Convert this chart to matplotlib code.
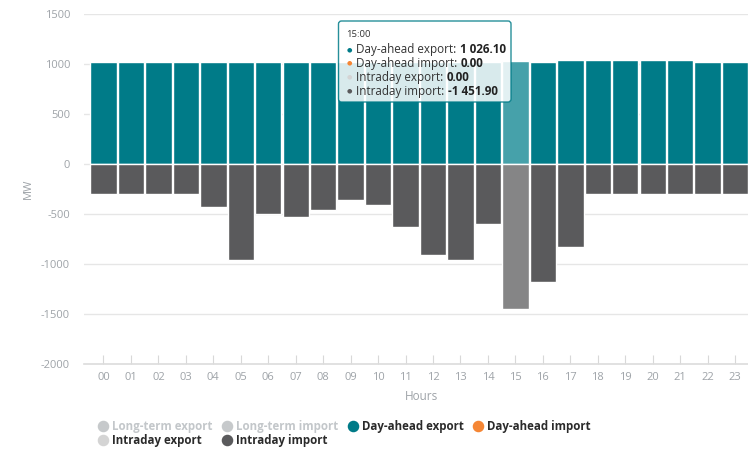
import matplotlib.pyplot as plt
from matplotlib.lines import Line2D
from matplotlib.patches import FancyBboxPatch

plt.rcParams["font.family"] = ["Open Sans", "DejaVu Sans"]
plt.rcParams["axes.unicode_minus"] = False

hours = ["00", "01", "02", "03", "04", "05", "06", "07", "08", "09", "10", "11",
         "12", "13", "14", "15", "16", "17", "18", "19", "20", "21", "22", "23"]
day_ahead_export = [1020, 1020, 1020, 1020, 1020, 1020, 1020, 1020, 1020, 1020, 1020, 1020,
                    1020, 1020, 1020, 1026.10, 1020, 1040, 1040, 1040, 1040, 1040, 1020, 1020]
day_ahead_import = [0.0] * 24
intraday_export = [0.0] * 24
intraday_import = [-300, -300, -300, -300, -433, -960, -497, -530, -457, -363, -407, -630,
                   -910, -957, -600, -1451.90, -1180, -827, -300, -300, -300, -300, -300, -300]
hover_hour = 15

c_dae = "#007b88"
c_dai = "#f58634"
c_ide = "#d4d4d4"
c_idi = "#5a5a5c"
c_hidden = "#c6c9cb"
c_tick = "#9ea3a8"

fig = plt.figure(figsize=(7.48, 4.49), dpi=100)
ax = fig.add_axes([84 / 748, 1 - 364 / 449, 664 / 748, 350 / 449])

x = list(range(len(hours)))
dae_cols = ["#46a1aa" if i == hover_hour else c_dae for i in x]
idi_cols = ["#858586" if i == hover_hour else c_idi for i in x]
ax.bar(x, day_ahead_export, width=0.96, color=dae_cols, edgecolor="white", linewidth=1, zorder=3)
ax.bar(x, day_ahead_import, width=0.96, color=c_dai, edgecolor="white", linewidth=0, zorder=3)
ax.bar(x, intraday_export, width=0.96, color=c_ide, edgecolor="white", linewidth=0, zorder=3)
ax.bar(x, intraday_import, width=0.96, color=idi_cols, edgecolor="white", linewidth=1, zorder=3)

ax.set_xlim(-0.71, 23.47)
ax.set_ylim(-2000, 1500)
ax.set_yticks(range(-2000, 1501, 500))
ax.set_xticks(x)
ax.set_xticklabels(hours)
ax.grid(axis="y", color="#e6e6e6", linewidth=1, zorder=0)
for s in ["top", "right", "left"]:
    ax.spines[s].set_visible(False)
ax.spines["bottom"].set_color("#dcdcdc")
ax.spines["bottom"].set_linewidth(1.2)
ax.tick_params(axis="y", length=0, pad=10, labelsize=8, labelcolor=c_tick)
ax.tick_params(axis="x", direction="in", length=6.5, width=0.8, color="#d8d8d8",
               pad=6, labelsize=8, labelcolor=c_tick)
ax.set_xlabel("Hours", fontsize=8.5, color=c_tick)
ax.xaxis.set_label_coords(0.508, -0.075)
ax.set_ylabel("MW", fontsize=8, color=c_tick)
ax.yaxis.set_label_coords(-0.075, 0.5)

# tooltip
box = FancyBboxPatch((3.385, 3.47), 1.725, 0.81, boxstyle="round,pad=0,rounding_size=0.03",
                     transform=fig.dpi_scale_trans, facecolor="white", alpha=0.85,
                     edgecolor=c_dae, linewidth=1, zorder=10)
fig.add_artist(box)
fig.text(3.46, 4.49 - 0.35, f"{hover_hour}:00", transform=fig.dpi_scale_trans,
         fontsize=6.8, color="#333333", va="center", zorder=11)
rows = [("Day-ahead export", day_ahead_export[hover_hour], c_dae),
        ("Day-ahead import", day_ahead_import[hover_hour], c_dai),
        ("Intraday export", intraday_export[hover_hour], c_ide),
        ("Intraday import", intraday_import[hover_hour], c_idi)]
for k, (name, val, col) in enumerate(rows):
    yy = 4.49 - (0.495 + 0.139 * k)
    fig.text(3.49, yy, "\u25cf", transform=fig.dpi_scale_trans, fontsize=4.5, color=col,
             va="center", ha="center", zorder=11, family="DejaVu Sans")
    t = fig.text(3.565, yy, f"{name}: ", transform=fig.dpi_scale_trans, fontsize=8.4,
                 color="#333333", va="center", zorder=11)
    vs = f"{val:,.2f}".replace(",", " ")
    fig.add_artist(plt.Annotation(vs, xy=(1, 0), xycoords=t, va="bottom", fontsize=8.4,
                                  fontweight="bold", color="#222222", zorder=11))

# legend
def dot(c):
    return Line2D([], [], marker="o", linestyle="", markersize=7.3, markerfacecolor=c,
                  markeredgecolor=c)

handles = [dot(c_hidden), dot(c_ide), dot(c_hidden), dot(c_idi), dot(c_dae), dot(c_dai)]
labels = ["Long-term export", "Intraday export", "Long-term import", "Intraday import",
          "Day-ahead export", "Day-ahead import"]
leg = fig.legend(handles, labels, ncol=4, loc="upper left", bbox_to_anchor=(0.123, 0.077),
                 frameon=False, prop={"weight": "bold", "size": 8.3}, handlelength=0.85,
                 handletextpad=0.35, columnspacing=0.85, labelspacing=0.1, borderpad=0)
tcols = ["#c3c7ca", "#2b2b2b", "#c3c7ca", "#2b2b2b", "#2b2b2b", "#2b2b2b"]
for txt, c in zip(leg.get_texts(), tcols):
    txt.set_color(c)

fig.savefig("out.png", dpi=100)
